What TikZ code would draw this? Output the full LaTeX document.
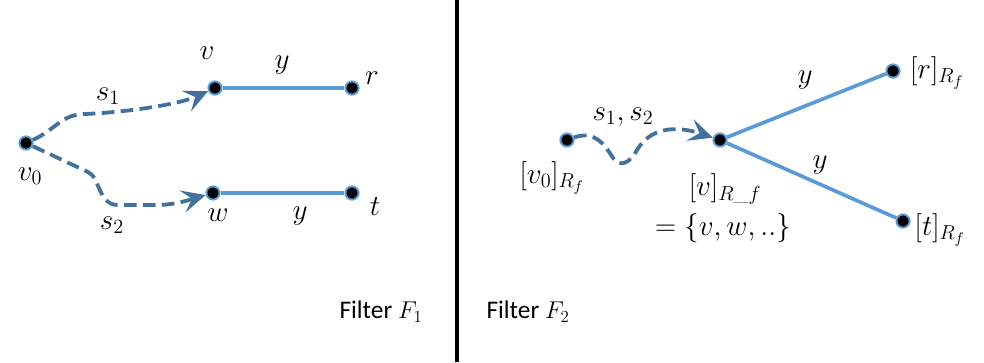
\documentclass[tikz,border=0pt]{standalone}
\usepackage{amsmath}
\usepackage{fontspec}
\setsansfont{Carlito}
\usetikzlibrary{arrows.meta}

\definecolor{edgeblue}{RGB}{91,155,213}
\definecolor{pathblue}{RGB}{65,113,156}

\begin{document}
\begin{tikzpicture}[
    x=0.025cm, y=-0.025cm,
    dot/.style={circle, fill=black, draw=edgeblue, line width=1.4pt, minimum size=0.33cm, inner sep=0pt},
    lbl/.style={inner sep=1pt, font=\fontsize{22}{26}\selectfont},
    caption/.style={inner sep=1pt, font=\sffamily\fontsize{18}{22}\selectfont},
    edge/.style={draw=edgeblue, line width=2.6pt},
    walk/.style={draw=pathblue, line width=2.7pt, dash pattern=on 9pt off 4.5pt,
                 -{Stealth[length=17pt, width=16pt, inset=7pt]}}
  ]

  \useasboundingbox (0,0) rectangle (984,362);

  % filter F1
  \node[dot] (v0) at (26,143) {};
  \node[dot] (v) at (215,88) {};
  \node[dot] (r) at (352,88) {};
  \node[dot] (w) at (213,193) {};
  \node[dot] (t) at (352,193) {};

  \draw[edge] (v) -- (r);
  \draw[edge] (w) -- (t);
  \draw[walk] (v0) .. controls (55,130) and (62,114) .. (85,114)
                   .. controls (130,112) and (180,104) .. (v);
  \draw[walk] (v0) -- (88,172) .. controls (100,177) and (98,205) .. (118,205)
                   -- (160,205) .. controls (180,204) and (195,198) .. (w);

  \node[lbl] (v0-lbl) at (30,176) {$v_0$};
  \node[lbl] (v-lbl) at (207,53) {$v$};
  \node[lbl] (r-lbl) at (372,78) {$r$};
  \node[lbl] (w-lbl) at (218,215) {$w$};
  \node[lbl] (t-lbl) at (375,207) {$t$};
  \node[lbl] (s1-lbl) at (108,96) {$s_1$};
  \node[lbl] (s2-lbl) at (112,225) {$s_2$};
  \node[lbl] (y1-lbl) at (282,65) {$y$};
  \node[lbl] (y2-lbl) at (300,216) {$y$};

  % divider
  \coordinate (top) at (457,0);
  \coordinate (bottom) at (457,362);
  \draw[line width=2.2pt] (top) -- (bottom);

  \node[caption] (f1) at (381,312) {Filter $F_1$};
  \node[caption] (f2) at (528,312) {Filter $F_2$};

  % filter F2
  \node[dot] (cv0) at (567,140) {};
  \node[dot] (cv) at (720,140) {};
  \node[dot] (cr) at (893,71) {};
  \node[dot] (ct) at (903,221) {};

  \draw[edge] (cv) -- (cr);
  \draw[edge] (cv) -- (ct);
  \draw[walk] (cv0) .. controls (595,130) and (605,145) .. (613,158)
                    .. controls (620,168) and (630,163) .. (637,150)
                    .. controls (650,128) and (675,125) .. (cv);

  \node[lbl] (s12-lbl) at (623,117) {$s_1, s_2$};
  \node[lbl] (cv0-lbl) at (552,178) {$[v_0]_{R_f}$};
  \node[lbl] (cv-lbl) at (725,189) {$[v]_{R\text{\_}f}$};
  \node[lbl] (set-lbl) at (723,228) {$=\{v,w,..\}$};
  \node[lbl] (cr-lbl) at (937,73) {$[r]_{R_f}$};
  \node[lbl] (ct-lbl) at (940,230) {$[t]_{R_f}$};
  \node[lbl] (cy1-lbl) at (805,80) {$y$};
  \node[lbl] (cy2-lbl) at (820,165) {$y$};

\end{tikzpicture}
\end{document}
